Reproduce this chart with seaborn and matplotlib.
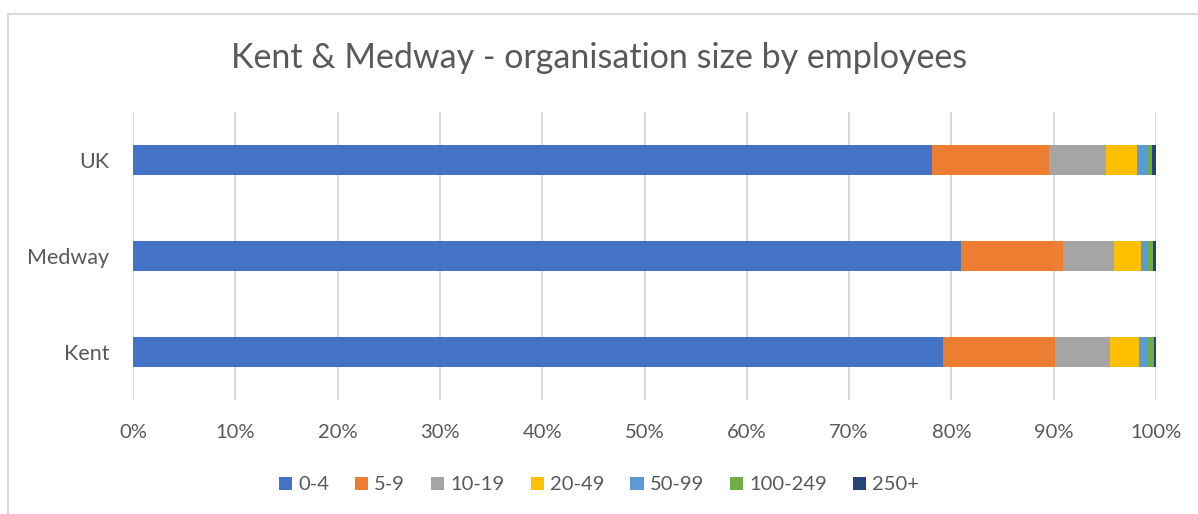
import matplotlib
matplotlib.use("Agg")
import matplotlib.pyplot as plt
from matplotlib.lines import Line2D
from matplotlib.patches import Patch
import seaborn as sns
import pandas as pd
import numpy as np

regions = ["UK", "Medway", "Kent"]
size_bands = ["0-4", "5-9", "10-19", "20-49", "50-99", "100-249", "250+"]
share_0_4 = [78.1, 80.9, 79.2]
share_5_9 = [11.4, 10.0, 10.9]
share_10_19 = [5.6, 5.0, 5.4]
share_20_49 = [3.0, 2.6, 2.85]
share_50_99 = [1.0, 0.6, 0.9]
share_100_249 = [0.5, 0.6, 0.55]
share_250_plus = [0.4, 0.3, 0.2]
colors = ["#4472C4", "#ED7D31", "#A5A5A5", "#FFC000", "#5B9BD5", "#70AD47", "#264478"]
xtick_labels = ["0%", "10%", "20%", "30%", "40%", "50%", "60%", "70%", "80%", "90%", "100%"]

series = [share_0_4, share_5_9, share_10_19, share_20_49, share_50_99, share_100_249, share_250_plus]
df = pd.DataFrame({b: s for b, s in zip(size_bands, series)}, index=regions)
totals = df.sum(axis=1)
df = df.div(totals, axis=0) * 100
cum = df.cumsum(axis=1)

sns.set_theme(style="white")
plt.rcParams["font.family"] = ["Lato", "DejaVu Sans"]
text_color = "#595959"

fig = plt.figure(figsize=(11.98, 5.14), dpi=100)
ax = fig.add_axes([133 / 1198, 1 - 400 / 514, (1156 - 133) / 1198, (400 - 112) / 514])

for band, col in reversed(list(zip(size_bands, colors))):
    d = pd.DataFrame({"region": regions, "value": cum[band].values})
    sns.barplot(data=d, x="value", y="region", order=regions, color=col,
                width=0.3125, linewidth=0, saturation=1, ax=ax, zorder=3)

ax.set_xlim(0, 100)
ax.set_ylim(2.5, -0.5)
ax.set_xticks(np.arange(0, 101, 10))
ax.set_xticklabels(xtick_labels)
ax.xaxis.grid(True, color="#d9d9d9", linewidth=1.5, zorder=0)
ax.yaxis.grid(False)
ax.set_axisbelow(True)
for s in ax.spines.values():
    s.set_visible(False)
ax.set_xlabel("")
ax.set_ylabel("")
ax.tick_params(axis="x", colors=text_color, labelsize=14.5, length=0, pad=17)
ax.tick_params(axis="y", colors=text_color, labelsize=15.5, length=0, pad=17)

fig.text(0.5, 1 - 58 / 514, "Kent & Medway - organisation size by employees",
         ha="center", va="center", fontsize=24.5, color=text_color)

handles = [Patch(facecolor=c, edgecolor="none") for c in colors]
leg = fig.legend(handles, size_bands, loc="center", bbox_to_anchor=(0.5, 1 - 485 / 514),
                 ncol=7, frameon=False, fontsize=14.5, handlelength=0.65, handleheight=0.65,
                 handletextpad=0.3, columnspacing=1.3)
for t in leg.get_texts():
    t.set_color(text_color)

fig.add_artist(Line2D([8 / 1198, 8 / 1198], [1 - 14 / 514, 0.0], transform=fig.transFigure,
                      color="#d9d9d9", linewidth=1.5))
fig.add_artist(Line2D([8 / 1198, 1.0], [1 - 14 / 514, 1 - 14 / 514], transform=fig.transFigure,
                      color="#d9d9d9", linewidth=1.5))

fig.savefig("out.png", dpi=100, facecolor="white")
